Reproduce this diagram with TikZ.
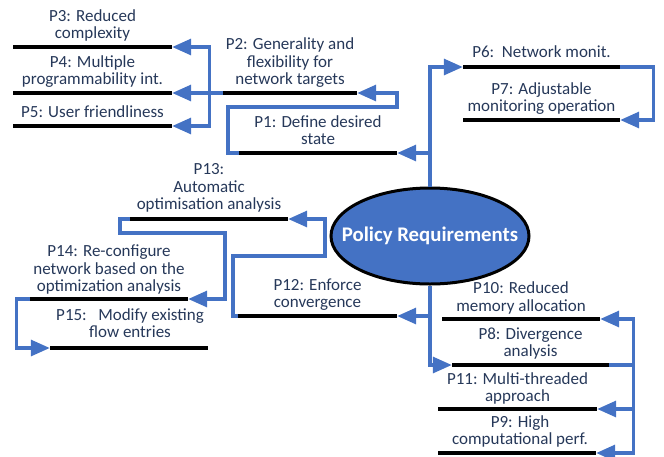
\documentclass[tikz,border=0pt]{standalone}
\usepackage{fontspec}
\setmainfont{Carlito}
\usetikzlibrary{arrows.meta,positioning,shapes.geometric}
\definecolor{linkblue}{HTML}{4472C4}
\definecolor{txtnavy}{HTML}{263859}
\tikzset{
  bar/.style={fill=black, draw=none, inner sep=0pt, minimum height=4pt, minimum width=158pt},
  lbl/.style={anchor=south, inner sep=0pt, text depth=0pt, align=center, text=txtnavy,
              font=\fontsize{17}{17.5}\selectfont},
  conn/.style={draw=linkblue, line width=3.2pt, -{Triangle[length=19pt,width=16pt]}},
  hub/.style={ellipse, draw=black, line width=3pt, fill=linkblue, minimum width=198pt,
              minimum height=96pt, inner sep=0pt},
  hubtext/.style={inner sep=0pt, text=white, font=\fontsize{20.8}{22}\selectfont\bfseries}
}
\begin{document}
\begin{tikzpicture}[x=1pt,y=-1pt]
\useasboundingbox (0,0) rectangle (664,456);

% hub
\node[hub] (hub) at (430,236) {};
\node[hubtext] (hubt) at (hub.center) {Policy Requirements};

% bars
\node[bar, minimum width=159pt] (p3) at (92.5,47) {};
\node[bar, minimum width=159pt] (p4) at (92.5,93) {};
\node[bar, minimum width=159pt] (p5) at (92.5,126) {};
\node[bar, minimum width=134pt] (p2) at (290,93) {};
\node[bar] (p1) at (318,153) {};
\node[bar, minimum width=157pt] (p6) at (541.5,67) {};
\node[bar, minimum width=157pt] (p7) at (541.5,120) {};
\node[bar] (p13) at (209,219) {};
\node[bar, minimum width=159pt] (p12) at (317.5,316) {};
\node[bar] (p14) at (109,299) {};
\node[bar] (p15) at (129,348) {};
\node[bar] (p10) at (521,319) {};
\node[bar, minimum width=157pt] (p8) at (530.5,365) {};
\node[bar, minimum width=159pt] (p11) at (517.5,409) {};
\node[bar] (p9) at (517,453) {};

% labels
\node[lbl, above=6pt of p3] (t3) {P3: Reduced\\complexity};
\node[lbl, above=6pt of p4] (t4) {P4: Multiple\\programmability int.};
\node[lbl, above=6pt of p5] (t5) {P5: User friendliness};
\node[lbl, above=6pt of p2] (t2) {P2: Generality and\\flexibility for\\network targets};
\node[lbl, above=6pt of p1] (t1) {P1: Define desired\\state};
\node[lbl, above=7pt of p6] (t6) {P6:\ \ Network monit.};
\node[lbl, above=6pt of p7] (t7) {P7: Adjustable\\monitoring operation};
\node[lbl, above=7pt of p13] (t13) {P13:\\Automatic\\optimisation analysis};
\node[lbl, above=6pt of p12] (t12) {P12: Enforce\\convergence};
\node[lbl, above=5pt of p14] (t14) {P14: Re-configure\\network based on the\\optimization analysis};
\node[lbl, above=8pt of p15, xshift=1pt] (t15) {P15:\ \ \ Modify existing\\flow entries};
\node[lbl, above=5.5pt of p10] (t10) {P10: Reduced\\memory allocation};
\node[lbl, above=6pt of p8] (t8) {P8: Divergence\\analysis};
\node[lbl, above=5pt of p11] (t11) {P11: Multi-threaded\\approach};
\node[lbl, above=6pt of p9, xshift=3pt] (t9) {P9: High\\computational perf.};

% helper corners
\coordinate (k1) at (228,107);
\coordinate (k2) at (397,107);
\coordinate (k3) at (233,256);
\coordinate (k4) at (325,256);
\coordinate (k5) at (120,233);
\coordinate (k6) at (225,233);

% connectors
\draw[conn] (hub.north) |- (p6.west);
\draw[conn] (hub.north |- p1.east) -- (p1.east);
\draw[conn] (p6.east) -- ++(33,0) |- (p7.east);
\draw[conn] (p1.west) -| (k1) -- (k2) |- (p2.east);
\draw[conn] (p2.west) -- (p4.east);
\draw[conn] (p2.west) -- ++(-13,0) |- (p3.east);
\draw[conn] (p2.west) -- ++(-13,0) |- (p5.east);

\draw[conn] (hub.south) |- (p8.west);
\draw[conn] (hub.south |- p12.east) -- (p12.east);
\draw[conn] (p8.east) -- ++(24,0) |- (p10.east);
\draw[conn] (p8.east) -- ++(24,0) |- (p11.east);
\draw[conn] (p8.east) -- ++(24,0) |- (p9.east);

\draw[conn] (p12.west) -| (k3) -- (k4) |- (p13.east);
\draw[conn] (p13.west) -| (k5) -- (k6) |- (p14.east);
\draw[conn] (p14.west) -- ++(-13,0) |- (p15.west);
\end{tikzpicture}
\end{document}
